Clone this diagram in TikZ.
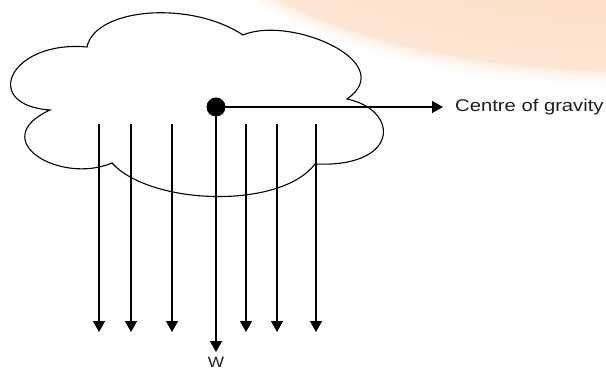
\documentclass[tikz,border=0pt]{standalone}
\usepackage{fontspec}
\setmainfont{Liberation Sans}
\usetikzlibrary{arrows.meta}
\definecolor{peach}{RGB}{253,230,212}
\definecolor{peachdark}{RGB}{251,212,180}
\definecolor{textgray}{RGB}{30,30,30}
\begin{document}
\begin{tikzpicture}[x=1pt,y=-1pt,
  cloudline/.style={line width=1.1pt, black},
  force/.style={line width=1.3pt, -{Triangle[width=12pt,length=11pt]}},
  lbl/.style={inner sep=0pt, text=textgray}]
\useasboundingbox (0,0) rectangle (606,370);
\clip (0,0) rectangle (606,370);
% background glow
\foreach \d/\o in {14/0.12,10/0.18,6/0.25,3/0.35}{
  \fill[peach, opacity=\o] (640,-100) ellipse [x radius=446+\d, y radius=172+\d];
}
\shade[inner color=peachdark, outer color=peach] (640,-100) ellipse [x radius=446, y radius=172];
% cloud
\draw[cloudline] (87,47) .. controls (95,8) and (190,0) .. (243,35)
  .. controls (290,15) and (400,62) .. (347,99)
  .. controls (400,110) and (400,168) .. (315,164)
  .. controls (280,210) and (150,205) .. (112,163)
  .. controls (60,185) and (-15,140) .. (50,110)
  .. controls (-20,105) and (10,40) .. cycle;
% centre of gravity
\node[circle, fill=black, minimum width=19pt, minimum height=17pt, inner sep=0pt] (cg) at (216,107) {};
\node[lbl, anchor=west, font=\fontsize{17}{20}\selectfont] (cog) at (455,107) {\scalebox{1.19}[1]{Centre of gravity}};
\draw[force, shorten >=12pt] (cg.center) -- (cog.west);
% weight arrows
\foreach \i/\x in {1/99,2/131,3/172,5/246,6/277,7/316}{
  \coordinate (s\i) at (\x,124);
  \coordinate (e\i) at (\x,332);
  \draw[force] (s\i) -- (e\i);
}
\coordinate (e4) at (216,352);
\draw[force] (cg.center) -- (e4);
\node[lbl, font=\fontsize{15}{18}\selectfont] (w) at (216,362) {\scalebox{1.15}[1]{W}};
\end{tikzpicture}
\end{document}
